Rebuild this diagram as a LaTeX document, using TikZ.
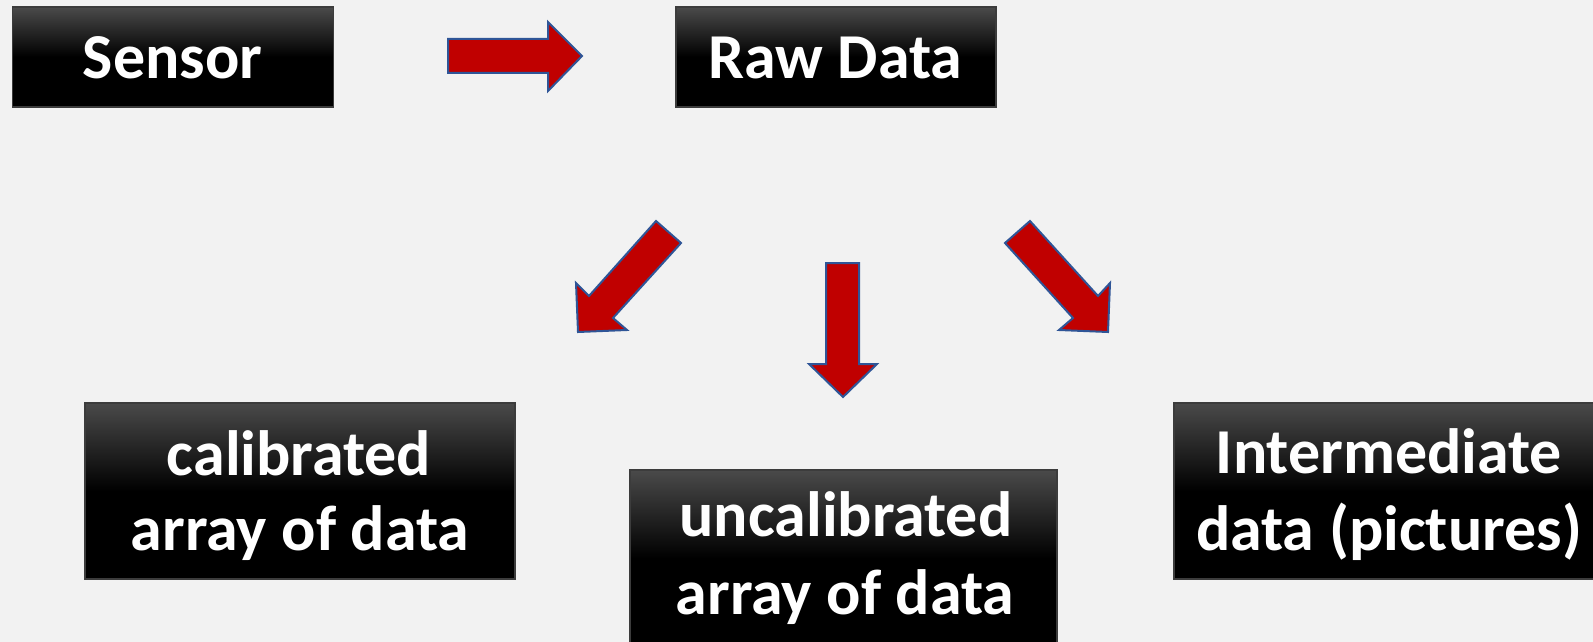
\documentclass[tikz,border=0pt]{standalone}
\usepackage{fontspec}
\setmainfont{Carlito}
\definecolor{bg}{HTML}{F2F2F2}
\definecolor{boxtop}{HTML}{4A4A4A}
\definecolor{boxedge}{HTML}{3C3C3C}
\definecolor{arrowred}{HTML}{C00000}
\definecolor{arrowedge}{HTML}{2F5597}
\tikzset{
  blackbox/.style={draw=boxedge, line width=1.5pt, inner sep=0pt,
    top color=boxtop, bottom color=black, middle color=black},
  smallbox/.style={blackbox, minimum height=100pt},
  bigbox/.style={blackbox, minimum width=430pt, minimum height=176pt},
  boxtext/.style={text=white, inner sep=0pt, anchor=base,
    font=\fontsize{64}{77}\selectfont\bfseries},
  blockarrow/.style={fill=arrowred, draw=arrowedge, line width=2pt, line join=miter}
}
\begin{document}
\begin{tikzpicture}[x=1pt, y=-1pt]
  \useasboundingbox (0,0) rectangle (1593,642);
  \clip (0,0) rectangle (1593,642);
  \fill[bg] (0,0) rectangle (1593,642);

  % top row
  \node[smallbox, minimum width=321pt] (sensor) at (173,57) {};
  \node[boxtext] (sensortext) at (172.5,78) {Sensor};
  \node[smallbox, minimum width=320pt] (raw) at (836,57) {};
  \node[boxtext] (rawtext) at (835.5,78) {Raw Data};

  % bottom row
  \node[bigbox] (cal) at (300,491) {};
  \node[boxtext] (cal1) at (299,475) {calibrated};
  \node[boxtext] (cal2) at (300,550) {array of data};

  \node[bigbox, minimum width=427pt] (uncal) at (843.5,558) {};
  \node[boxtext] (uncal1) at (846,536) {uncalibrated};
  \node[boxtext] (uncal2) at (845,614) {array of data};

  \node[bigbox] (inter) at (1389,491) {};
  \node[boxtext] (inter1) at (1389,473) {Intermediate};
  \node[boxtext] (inter2) at (1389,550) {data (pictures)};

  % block arrows
  \draw[blockarrow] (448,39) -- (548,39) -- (548,22) -- (582,56) -- (548,91)
    -- (548,73) -- (448,73) -- cycle;
  \draw[blockarrow] (656,221) -- (681,243) -- (613,318) -- (627,330) -- (578,332)
    -- (576,283) -- (589,296) -- cycle;
  \draw[blockarrow] (826,263) -- (859,263) -- (859,364) -- (877,364) -- (843,397)
    -- (809,364) -- (826,364) -- cycle;
  \draw[blockarrow] (1030,221) -- (1098,296) -- (1110,283) -- (1108,332)
    -- (1059,330) -- (1073,318) -- (1005,243) -- cycle;
\end{tikzpicture}
\end{document}
